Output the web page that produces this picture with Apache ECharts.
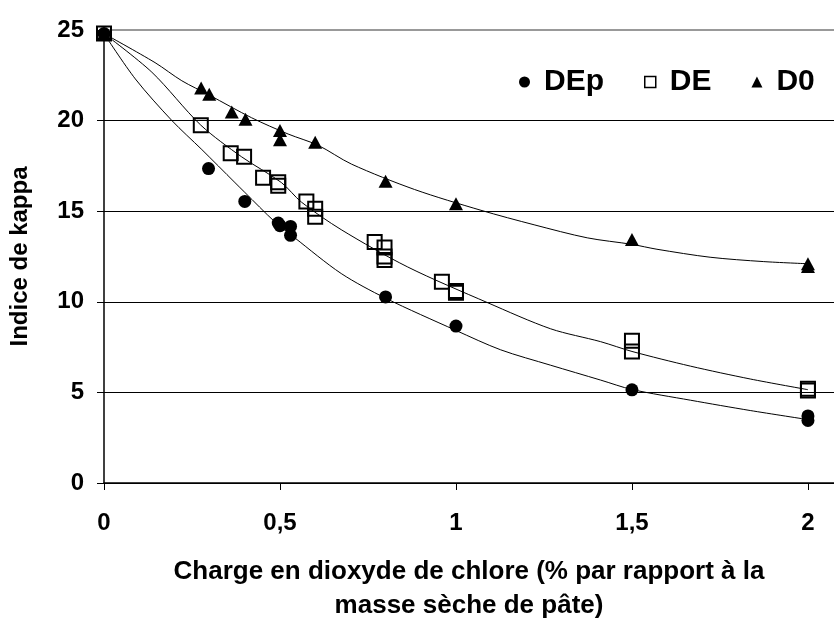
<!DOCTYPE html>
<html>
<head>
<meta charset="utf-8">
<script src="https://cdn.jsdelivr.net/npm/echarts@6/dist/echarts.min.js"></script>
<style>html,body{margin:0;padding:0;background:#fff}#c{width:834px;height:628px}</style>
</head>
<body>
<div id="c"></div>
<script>
// Measured points
const depX = [0, 0.297, 0.4, 0.495, 0.5, 0.53, 0.53, 0.8, 1.0, 1.5, 2.0, 2.0];
const depY = [24.8, 17.35, 15.54, 14.35, 14.2, 14.16, 13.67, 10.27, 8.66, 5.14, 3.7, 3.45];
const deX = [0, 0.275, 0.36, 0.398, 0.452, 0.495, 0.495, 0.575, 0.6, 0.6, 0.769, 0.797, 0.797, 0.797, 0.96, 1.0, 1.0, 1.5, 1.5, 2.0, 2.0];
const deY = [24.8, 19.75, 18.2, 18.0, 16.85, 16.6, 16.4, 15.54, 15.14, 14.7, 13.3, 13.0, 12.5, 12.3, 11.11, 10.6, 10.5, 7.85, 7.26, 5.2, 5.1];
const d0X = [0, 0.276, 0.299, 0.363, 0.402, 0.5, 0.5, 0.6, 0.8, 1.0, 1.5, 2.0, 2.0];
const d0Y = [24.8, 21.8, 21.45, 20.48, 20.07, 19.45, 18.94, 18.8, 16.65, 15.41, 13.44, 12.1, 11.95];

// Trend curves
const depCurveX = [0, 0.089, 0.193, 0.278, 0.372, 0.4, 0.485, 0.542, 0.674, 0.8, 1.0, 1.127, 1.269, 1.411, 1.5, 1.666, 1.836, 2.0];
const depCurveY = [24.8, 22.3, 20.0, 18.4, 16.58, 16.04, 14.42, 13.53, 11.56, 10.2, 8.42, 7.35, 6.5, 5.68, 5.16, 4.57, 4.0, 3.5];
const deCurveX = [0, 0.136, 0.275, 0.391, 0.504, 0.561, 0.674, 0.863, 1.09, 1.269, 1.411, 1.5, 1.666, 1.836, 2.0];
const deCurveY = [24.8, 22.67, 19.75, 18.0, 16.58, 15.5, 13.98, 11.92, 9.95, 8.51, 7.8, 7.26, 6.45, 5.74, 5.15];
const d0CurveX = [0, 0.145, 0.221, 0.3, 0.419, 0.523, 0.608, 0.703, 0.882, 1.071, 1.222, 1.373, 1.5, 1.571, 1.722, 1.873, 2.0];
const d0CurveY = [24.8, 23.2, 22.2, 21.4, 20.16, 19.26, 18.64, 17.6, 16.2, 15.05, 14.25, 13.53, 13.17, 12.9, 12.46, 12.22, 12.1];

const xTicks = [0, 0.5, 1, 1.5, 2];
const seriesNames = ['DEp', 'DE', 'D0'];
const xTitle = 'Charge en dioxyde de chlore (% par rapport à la\nmasse sèche de pâte)';
const yTitle = 'Indice de kappa';

const zip = (a, b) => a.map((v, i) => [v, b[i]]);
const FONT = '"Liberation Sans", Arial, sans-serif';

const chart = echarts.init(document.getElementById('c'), null, {renderer: 'canvas'});
const lineStyle = {color: '#000', width: 1};
chart.setOption({
  animation: false,
  backgroundColor: '#fff',
  textStyle: {fontFamily: FONT},
  grid: {left: 102, right: 0, top: 30, bottom: 133},
  legend: {
    data: [
      {name: 'DEp'},
      {name: 'DE', itemStyle: {borderWidth: 1.5}},
      {name: 'D0'}
    ],
    left: 514, top: 62,
    itemGap: 40,
    itemWidth: 11, itemHeight: 11,
    textStyle: {fontSize: 30, fontWeight: 'bold', color: '#000', fontFamily: FONT, padding: [0, 0, 0, 9]}
  },
  xAxis: [{
    type: 'value', min: 0, max: 2.074, interval: 0.5,
    axisLine: {lineStyle: {color: '#000', width: 1.5}},
    axisTick: {show: true, length: 7, lineStyle: {color: '#000'}, customValues: xTicks},
    axisLabel: {customValues: xTicks, formatter: v => String(v).replace('.', ','), fontSize: 24, fontWeight: 'bold', color: '#000', margin: 28, fontFamily: FONT},
    splitLine: {show: false},
    name: xTitle, nameLocation: 'middle', nameGap: 72,
    nameTextStyle: {fontSize: 26, fontWeight: 'bold', color: '#000', lineHeight: 34, fontFamily: FONT}
  }, {
    type: 'value', position: 'top', min: 0, max: 2.074,
    axisLine: {show: true, lineStyle: {color: '#999', width: 2}},
    axisTick: {show: false}, axisLabel: {show: false}, splitLine: {show: false}
  }],
  yAxis: {
    type: 'value', min: 0, max: 25, interval: 5,
    axisLine: {show: true, lineStyle: {color: '#000', width: 1.5}},
    axisTick: {show: true, length: 7, lineStyle: {color: '#000'}},
    axisLabel: {fontSize: 24, fontWeight: 'bold', color: '#000', margin: 20, fontFamily: FONT},
    splitLine: {show: true, lineStyle: {color: '#000', width: 1}},
    name: yTitle, nameLocation: 'middle', nameGap: 72, nameRotate: 90,
    nameTextStyle: {fontSize: 24, fontWeight: 'bold', color: '#000', fontFamily: FONT}
  },
  series: [
    {name: 'DEp-trend', type: 'line', data: zip(depCurveX, depCurveY), symbol: 'none', smooth: 0.3, lineStyle, silent: true, z: 1},
    {name: 'DE-trend', type: 'line', data: zip(deCurveX, deCurveY), symbol: 'none', smooth: 0.3, lineStyle, silent: true, z: 1},
    {name: 'D0-trend', type: 'line', data: zip(d0CurveX, d0CurveY), symbol: 'none', smooth: 0.3, lineStyle, silent: true, z: 1},
    {name: 'D0', type: 'scatter', data: zip(d0X, d0Y), symbol: 'triangle', symbolSize: [14, 13], itemStyle: {color: '#000', opacity: 1}, z: 3},
    {name: 'DE', type: 'scatter', data: zip(deX, deY), symbol: 'rect', symbolSize: 14, itemStyle: {color: 'rgba(0,0,0,0)', borderColor: '#000', borderWidth: 2, opacity: 1}, z: 4},
    {name: 'DEp', type: 'scatter', data: zip(depX, depY), symbol: 'circle', symbolSize: 13, itemStyle: {color: '#000', opacity: 1}, z: 5}
  ]
});
</script>
</body>
</html>
